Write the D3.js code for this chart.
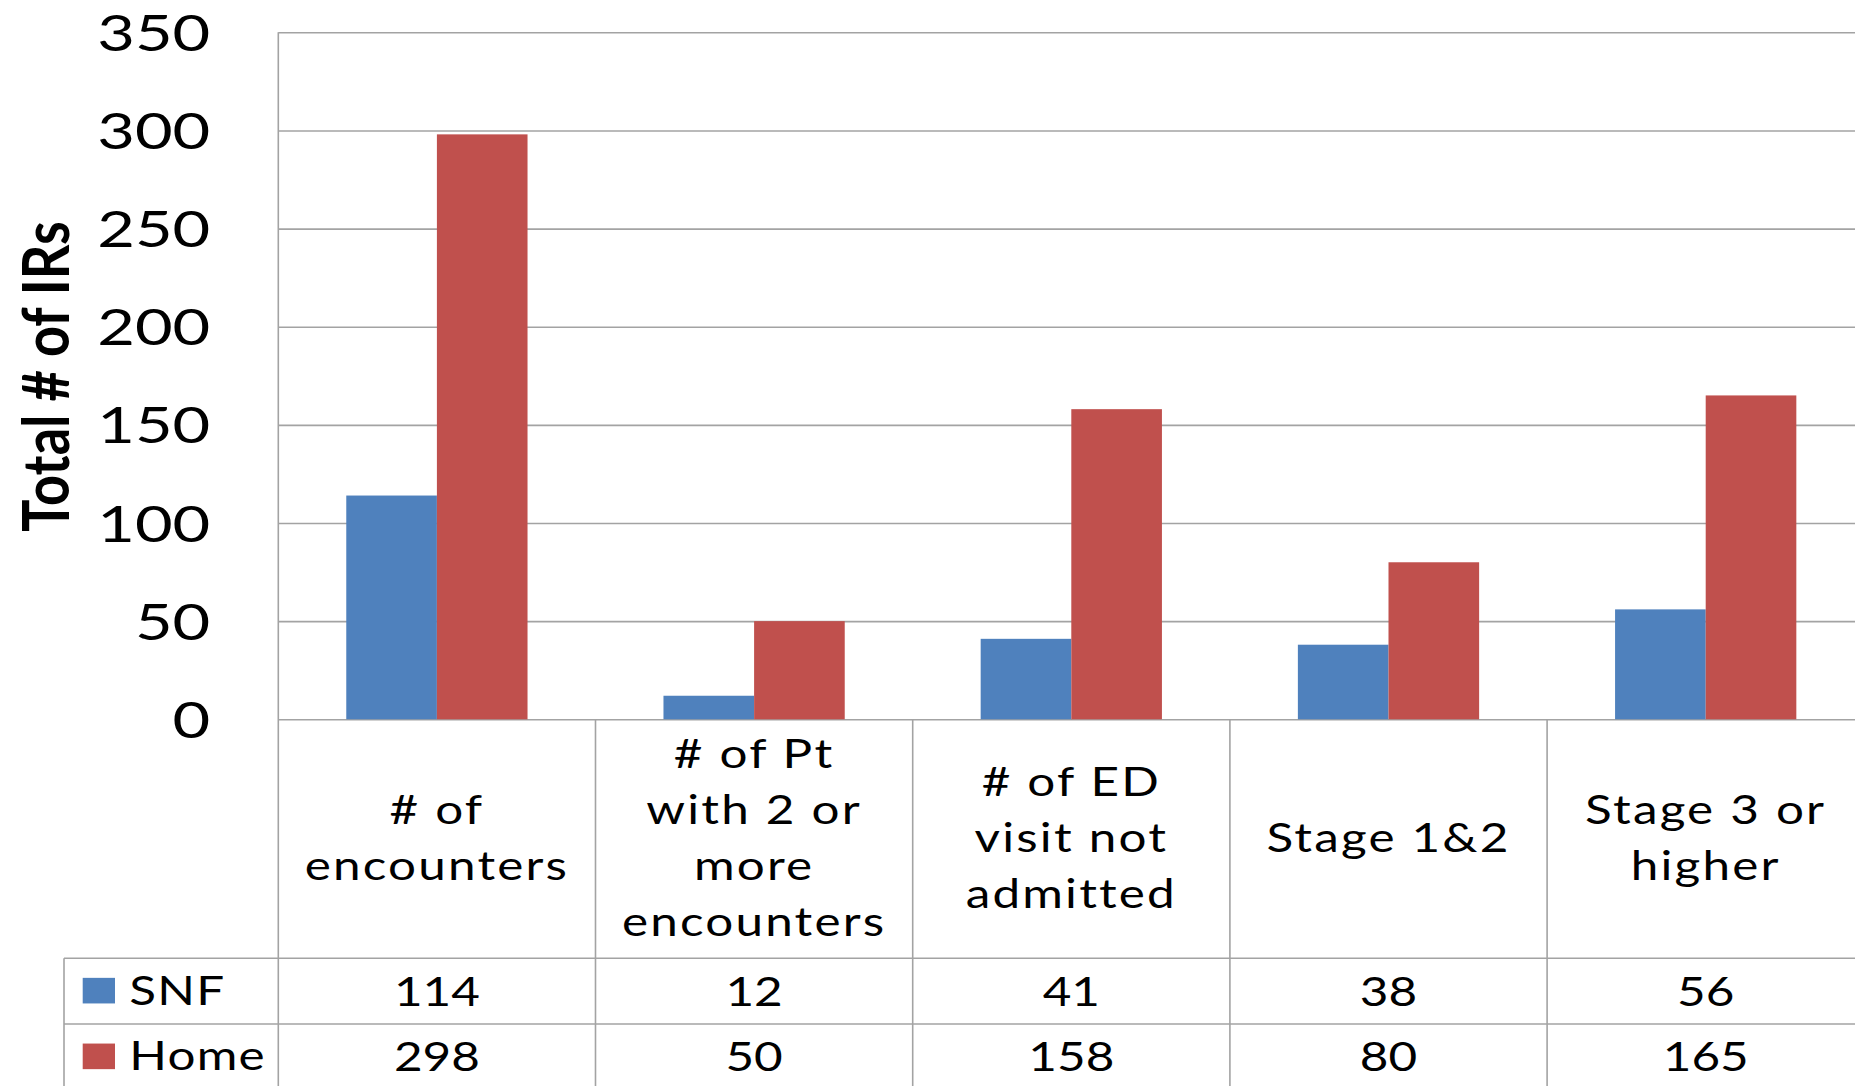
<!DOCTYPE html>
<html>
<head>
<meta charset="utf-8">
<script src="https://cdn.jsdelivr.net/npm/d3@7"></script>
<style>
  html, body { margin: 0; padding: 0; background: #ffffff; }
  svg { display: block; }
</style>
</head>
<body>
<svg id="chart" width="1855" height="1086"></svg>
<script>
// ---- data ----
const categories = [
  "# of encounters",
  "# of Pt with 2 or more encounters",
  "# of ED visit not admitted",
  "Stage 1&2",
  "Stage 3 or higher"
];
const categoryLines = [
  ["# of", "encounters"],
  ["# of Pt", "with 2 or", "more", "encounters"],
  ["# of ED", "visit not", "admitted"],
  ["Stage 1&2"],
  ["Stage 3 or", "higher"]
];
const seriesNames = ["SNF", "Home"];
const snfValues = [114, 12, 41, 38, 56];
const homeValues = [298, 50, 158, 80, 165];
const yTicks = [0, 50, 100, 150, 200, 250, 300, 350];
const yTitle = "Total # of IRs";

// ---- layout ----
const W = 1855, H = 1086;
const plotLeft = 278.3, bandStep = 317.2;
const plotTop = 32.3, plotBottom = 719.3;
const plotRight = plotLeft + bandStep * categories.length;
const headerBottom = 958.3, rowH = 65.7, legendLeft = 64;
const SX = 1.22;                       // horizontal glyph stretch
const FONT = "Lato, 'Open Sans', sans-serif";
const colors = { SNF: "#4F81BD", Home: "#C0504D" };
const lineColor = "#a3a3a3";
const lineW = 1.6;

const seriesValues = { SNF: snfValues, Home: homeValues };
const rows = categories.map((c, i) => ({ cat: c, SNF: snfValues[i], Home: homeValues[i] }));

const svg = d3.select("#chart");

const x = d3.scaleBand().domain(categories).range([plotLeft, plotRight]).padding(0);
const xs = d3.scaleBand().domain(seriesNames).range([0, x.bandwidth()])
  .paddingInner(0).paddingOuter(0.75);
const y = d3.scaleLinear().domain([0, 350]).range([plotBottom, plotTop]);

// ---- gridlines + tick labels ----
const yAxis = d3.axisLeft(y).tickValues(yTicks).tickSize(-(plotRight - plotLeft)).tickPadding(0);
const gAxis = svg.append("g").attr("transform", `translate(${plotLeft},0)`).call(yAxis);
gAxis.select(".domain").remove();
gAxis.selectAll(".tick line").attr("stroke", lineColor).attr("stroke-width", lineW);
gAxis.selectAll(".tick text")
  .attr("x", 0).attr("dy", "0.36em")
  .attr("transform", `translate(-68,0) scale(1.3,1)`)
  .attr("text-anchor", "end")
  .attr("fill", "#000")
  .style("font-family", FONT)
  .style("font-size", "50px");

// ---- bars ----
const groups = svg.append("g").selectAll("g.cat")
  .data(rows).join("g").attr("class", "cat")
  .attr("transform", d => `translate(${x(d.cat)},0)`);
groups.selectAll("rect")
  .data(d => seriesNames.map(s => ({ s, v: d[s] })))
  .join("rect")
  .attr("x", d => xs(d.s))
  .attr("width", xs.bandwidth())
  .attr("y", d => y(d.v))
  .attr("height", d => y(0) - y(d.v))
  .attr("fill", d => colors[d.s]);

// ---- data table lines ----
const lines = [];
lines.push([plotLeft, plotTop, plotLeft, H + 10]);            // value axis / first column edge
categories.slice(1).forEach(c => lines.push([x(c), plotBottom, x(c), H + 10]));
lines.push([plotRight, plotBottom, plotRight, H + 10]);
for (let i = 0; i <= seriesNames.length; i++) {
  const yy = headerBottom + i * rowH;
  lines.push([legendLeft, yy, plotRight, yy]);
}
lines.push([legendLeft, headerBottom, legendLeft, H + 10]);
svg.append("g").selectAll("line").data(lines).join("line")
  .attr("x1", d => d[0]).attr("y1", d => d[1])
  .attr("x2", d => d[2]).attr("y2", d => d[3])
  .attr("stroke", lineColor).attr("stroke-width", lineW);

// ---- category header cells ----
const headerMid = (plotBottom + headerBottom) / 2;
const lineGap = 56;
const hdr = svg.append("g");
categories.forEach((c, i) => {
  const ls = categoryLines[i];
  const cx = x(c) + x.bandwidth() / 2;
  ls.forEach((t, j) => {
    const by = headerMid + 13.5 + (j - (ls.length - 1) / 2) * lineGap;
    hdr.append("text")
      .attr("transform", `translate(${cx},${by}) scale(${SX},1)`)
      .attr("text-anchor", "middle")
      .style("font-family", FONT).style("font-size", "40.5px")
      .style("letter-spacing", "1.8px")
      .attr("fill", "#000")
      .text(t);
  });
});

// ---- legend keys + value rows ----
const body = svg.append("g");
seriesNames.forEach((s, i) => {
  const mid = headerBottom + i * rowH + rowH / 2;
  body.append("rect")
    .attr("x", 82.7).attr("y", mid - 13.3)
    .attr("width", 32.3).attr("height", 25.6)
    .attr("fill", colors[s]);
  body.append("text")
    .attr("transform", `translate(129.3,${mid + 13.5}) scale(${SX},1)`)
    .style("font-family", FONT).style("font-size", "40.5px")
    .style("letter-spacing", "1px")
    .attr("fill", "#000")
    .text(s);
  seriesValues[s].forEach((v, k) => {
    body.append("text")
      .attr("transform", `translate(${x(categories[k]) + x.bandwidth() / 2},${mid + 14.5}) scale(${SX},1)`)
      .attr("text-anchor", "middle")
      .style("font-family", FONT).style("font-size", "40.5px")
      .attr("fill", "#000")
      .text(v);
  });
});

// ---- value axis title ----
svg.append("text")
  .attr("transform", `translate(69,376.5) scale(${SX},1) rotate(-90)`)
  .attr("text-anchor", "middle")
  .style("font-family", FONT).style("font-size", "54px").style("font-weight", "bold")
  .attr("fill", "#000")
  .text(yTitle);
</script>
</body>
</html>
